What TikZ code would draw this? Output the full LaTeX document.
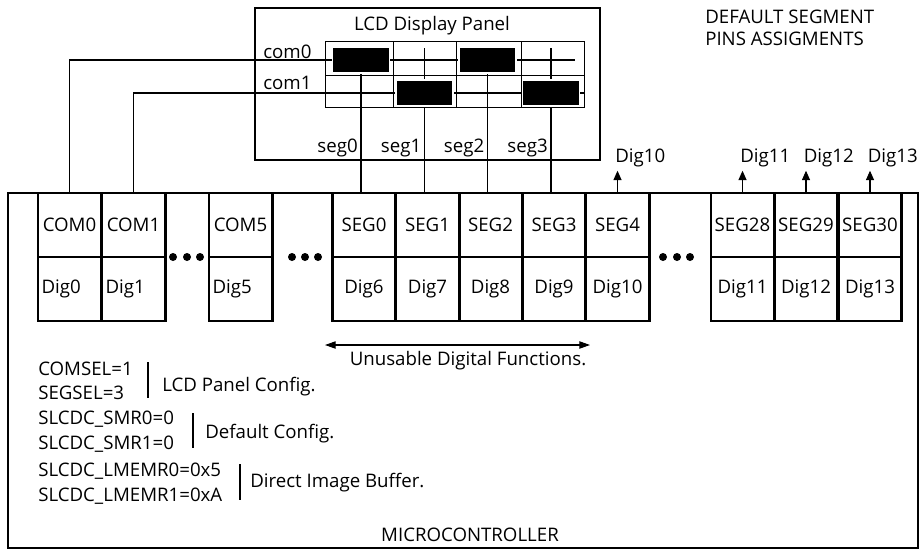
\documentclass[tikz,border=0pt]{standalone}
\usepackage{fontspec}
\setmainfont{Open Sans}
\usetikzlibrary{arrows.meta}

\begin{document}
\begin{tikzpicture}[
    x=0.75pt, y=-0.75pt,
    font=\fontsize{14}{16.5}\selectfont,
    box/.style={draw=black, line width=2.1pt},
    pin/.style={draw=black, line width=1.9pt, minimum width=47.6pt, minimum height=48pt, inner sep=0pt},
    pinleft/.style={pin, text width=42pt, align=left},
    wire/.style={draw=black, line width=0.8pt},
    gridline/.style={draw=black, line width=0.7pt},
    segon/.style={fill=black, draw=white, line width=1.2pt, minimum width=42.75pt, minimum height=19.5pt, inner sep=0pt},
    pinout/.style={draw=black, line width=0.8pt, -{Triangle[length=7pt, width=6pt]}},
    twoway/.style={draw=black, line width=0.8pt, {Triangle[length=8pt, width=5.5pt]}-{Triangle[length=8pt, width=5.5pt]}},
    bar/.style={draw=black, line width=1.8pt}
]
\useasboundingbox (0,0) rectangle (923,550);

%% ================================================================
%% MICROCONTROLLER: Pins (oben Funktion, unten Digital)
%% ================================================================
\draw[box] (8,193) rectangle (918,548);

\foreach \cx/\pa/\pb in {69.5/COM0/Dig0, 133.5/COM1/Dig1, 240.5/COM5/Dig5} {
    \node[pin] (\pa) at (\cx,225) {\pa};
    \node[pinleft] (\pb) at (\cx,289) {\pb};
}
\foreach \cx/\pa/\pb in {364/SEG0/Dig6, 427.5/SEG1/Dig7, 490.5/SEG2/Dig8,
                         554/SEG3/Dig9, 617.5/SEG4/Dig10,
                         742.5/SEG28/Dig11, 806/SEG29/Dig12, 870/SEG30/Dig13} {
    \node[pin] (\pa) at (\cx,225) {\pa};
    \node[pin] (\pb) at (\cx,289) {\pb};
}

%% --- Auslassungspunkte ---
\foreach \x in {173, 187, 200, 292, 305, 318, 663, 677, 690} {
    \fill (\x,257) circle[radius=3pt];
}

%% --- Ausgaenge als Digital-Pins ---
\foreach \pa/\pb in {SEG4/10, SEG28/11, SEG29/12, SEG30/13} {
    \draw[pinout] (\pa.north) -- ++(0,-21)
        node[anchor=base west, xshift=-2pt, yshift=6pt, inner sep=0pt] (out\pb) {Dig\pb};
}

%% ================================================================
%% LCD PANEL
%% ================================================================
\coordinate (com0end) at (575,60);
\coordinate (com1end) at (584,93);
\coordinate (segtop) at (0,48);

\draw[gridline] (325,41) rectangle (584,107);
\foreach \x in {393, 456, 521} {
    \draw[gridline] (\x,41) -- (\x,107);
}
\draw[gridline] (325,75) -- (584,75);

%% --- Leitungen com / seg ---
\draw[wire] (COM0.north) |- (com0end);
\draw[wire] (COM1.north) |- (com1end);
\foreach \pa in {SEG0, SEG1, SEG2, SEG3} {
    \draw[wire] ([xshift=-2.25pt]\pa.north) -- ([xshift=-2.25pt]\pa.north |- segtop);
}

%% --- aktive Segmente ---
\node[segon] (on0) at ([xshift=-2.25pt]SEG0.north |- com0end) {};
\node[segon] (on2) at ([xshift=-2.25pt]SEG2.north |- com0end) {};
\node[segon] (on1) at ([xshift=-2.25pt]SEG1.north |- com1end) {};
\node[segon] (on3) at ([xshift=-2.25pt]SEG3.north |- com1end) {};

\draw[box] (255,8) rectangle (600,160);
\node[anchor=base] (paneltitle) at (432,30) {LCD Display Panel};
\node[anchor=base west, inner sep=0pt] (lblcom0) at (263,58) {com0};
\node[anchor=base west, inner sep=0pt] (lblcom1) at (263,89) {com1};
\foreach \pa/\pb in {SEG0/0, SEG1/1, SEG2/2, SEG3/3} {
    \node[anchor=base east, inner sep=0pt] (lblseg\pb) at ([xshift=-4.5pt]\pa.north |- 0,152) {seg\pb};
}

\node[anchor=base west, inner sep=0pt, align=left] (title) at (705,45)
    {DEFAULT SEGMENT\\PINS ASSIGMENTS};

%% ================================================================
%% Konfiguration
%% ================================================================
\coordinate (unusL) at (325,345);
\coordinate (unusR) at (590,345);
\draw[twoway] (unusL) -- (unusR);
\node[anchor=base, inner sep=0pt] (unusable) at (468,365) {Unusable Digital Functions.};

\node[anchor=base west, inner sep=0pt] (cfg1a) at (38,375) {COMSEL=1};
\node[anchor=base west, inner sep=0pt] (cfg1b) at (38,399) {SEGSEL=3};
\draw[bar] (148,362) -- (148,398);
\node[anchor=base west, inner sep=0pt] (cfg1) at (162,391) {LCD Panel Config.};

\node[anchor=base west, inner sep=0pt] (cfg2a) at (38,424) {SLCDC\_SMR0=0};
\node[anchor=base west, inner sep=0pt] (cfg2b) at (38,449) {SLCDC\_SMR1=0};
\draw[bar] (193,413) -- (193,448);
\node[anchor=base west, inner sep=0pt] (cfg2) at (205,438) {Default Config.};

\node[anchor=base west, inner sep=0pt] (cfg3a) at (38,476) {SLCDC\_LMEMR0=0x5};
\node[anchor=base west, inner sep=0pt] (cfg3b) at (38,501) {SLCDC\_LMEMR1=0xA};
\draw[bar] (240,464) -- (240,500);
\node[anchor=base west, inner sep=0pt] (cfg3) at (250,487) {Direct Image Buffer.};

\node[anchor=base, inner sep=0pt] (mcu) at (470,541) {MICROCONTROLLER};

\end{tikzpicture}
\end{document}
